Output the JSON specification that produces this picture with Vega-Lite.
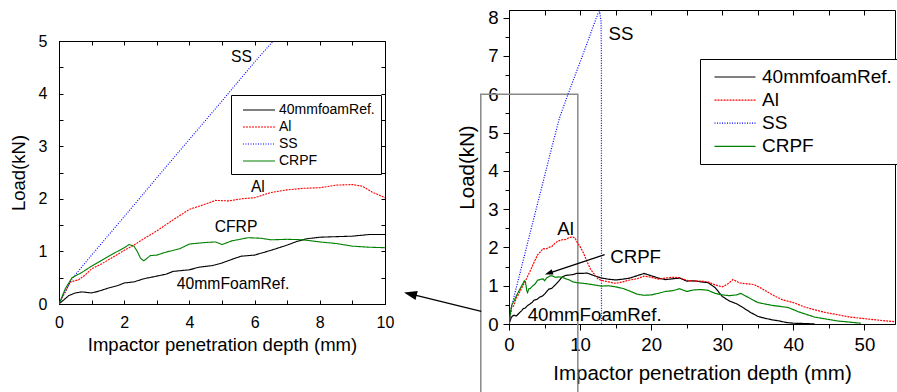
{
  "$schema": "https://vega.github.io/schema/vega-lite/v6.json",
  "padding": {"left": 8, "top": 8, "right": 0, "bottom": 0},
  "background": "white",
  "config": {
    "font": "Liberation Sans",
    "view": {"stroke": "black", "strokeWidth": 1},
    "axis": {"grid": false, "labelColor": "black", "tickColor": "black", "domainColor": "black", "titleColor": "black", "titleFontWeight": "normal", "labelFlush": false, "labelOverlap": false}
  },
  "datasets": {
    "curves": [
      {"series": "40mmfoamRef.", "x": 0, "y": 0}, {"series": "40mmfoamRef.", "x": 0.15, "y": 0.08}, {"series": "40mmfoamRef.", "x": 0.3, "y": 0.16}, {"series": "40mmfoamRef.", "x": 0.5, "y": 0.21}, {"series": "40mmfoamRef.", "x": 0.7, "y": 0.23}, {"series": "40mmfoamRef.", "x": 1.0, "y": 0.21}, {"series": "40mmfoamRef.", "x": 1.2, "y": 0.24}, {"series": "40mmfoamRef.", "x": 1.5, "y": 0.3}, {"series": "40mmfoamRef.", "x": 1.8, "y": 0.35}, {"series": "40mmfoamRef.", "x": 2.0, "y": 0.4}, {"series": "40mmfoamRef.", "x": 2.3, "y": 0.42}, {"series": "40mmfoamRef.", "x": 2.6, "y": 0.48}, {"series": "40mmfoamRef.", "x": 3.0, "y": 0.53}, {"series": "40mmfoamRef.", "x": 3.3, "y": 0.57}, {"series": "40mmfoamRef.", "x": 3.5, "y": 0.62}, {"series": "40mmfoamRef.", "x": 4.0, "y": 0.65}, {"series": "40mmfoamRef.", "x": 4.3, "y": 0.7}, {"series": "40mmfoamRef.", "x": 4.7, "y": 0.73}, {"series": "40mmfoamRef.", "x": 5.0, "y": 0.78}, {"series": "40mmfoamRef.", "x": 5.4, "y": 0.87}, {"series": "40mmfoamRef.", "x": 5.6, "y": 0.91}, {"series": "40mmfoamRef.", "x": 6.0, "y": 0.93}, {"series": "40mmfoamRef.", "x": 6.5, "y": 1.02}, {"series": "40mmfoamRef.", "x": 7.0, "y": 1.12}, {"series": "40mmfoamRef.", "x": 7.3, "y": 1.19}, {"series": "40mmfoamRef.", "x": 7.6, "y": 1.24}, {"series": "40mmfoamRef.", "x": 8.0, "y": 1.27}, {"series": "40mmfoamRef.", "x": 8.5, "y": 1.28}, {"series": "40mmfoamRef.", "x": 9.0, "y": 1.29}, {"series": "40mmfoamRef.", "x": 9.5, "y": 1.32}, {"series": "40mmfoamRef.", "x": 10, "y": 1.32}, {"series": "40mmfoamRef.", "x": 11, "y": 1.33}, {"series": "40mmfoamRef.", "x": 12, "y": 1.26}, {"series": "40mmfoamRef.", "x": 13, "y": 1.2}, {"series": "40mmfoamRef.", "x": 14, "y": 1.17}, {"series": "40mmfoamRef.", "x": 15, "y": 1.15}, {"series": "40mmfoamRef.", "x": 16, "y": 1.17}, {"series": "40mmfoamRef.", "x": 17, "y": 1.2}, {"series": "40mmfoamRef.", "x": 18, "y": 1.26}, {"series": "40mmfoamRef.", "x": 19, "y": 1.32}, {"series": "40mmfoamRef.", "x": 20, "y": 1.26}, {"series": "40mmfoamRef.", "x": 21, "y": 1.2}, {"series": "40mmfoamRef.", "x": 22, "y": 1.16}, {"series": "40mmfoamRef.", "x": 23, "y": 1.18}, {"series": "40mmfoamRef.", "x": 24, "y": 1.2}, {"series": "40mmfoamRef.", "x": 25, "y": 1.12}, {"series": "40mmfoamRef.", "x": 26, "y": 1.13}, {"series": "40mmfoamRef.", "x": 27, "y": 1.1}, {"series": "40mmfoamRef.", "x": 28, "y": 1.08}, {"series": "40mmfoamRef.", "x": 29, "y": 0.95}, {"series": "40mmfoamRef.", "x": 30, "y": 0.72}, {"series": "40mmfoamRef.", "x": 31, "y": 0.6}, {"series": "40mmfoamRef.", "x": 32, "y": 0.53}, {"series": "40mmfoamRef.", "x": 33, "y": 0.42}, {"series": "40mmfoamRef.", "x": 34, "y": 0.3}, {"series": "40mmfoamRef.", "x": 35, "y": 0.2}, {"series": "40mmfoamRef.", "x": 36, "y": 0.15}, {"series": "40mmfoamRef.", "x": 37, "y": 0.11}, {"series": "40mmfoamRef.", "x": 38, "y": 0.08}, {"series": "40mmfoamRef.", "x": 39, "y": 0.04}, {"series": "40mmfoamRef.", "x": 40, "y": 0.02}, {"series": "40mmfoamRef.", "x": 42, "y": 0.01}, {"series": "40mmfoamRef.", "x": 43, "y": 0},
      {"series": "Al", "x": 0, "y": 0}, {"series": "Al", "x": 0.2, "y": 0.25}, {"series": "Al", "x": 0.35, "y": 0.42}, {"series": "Al", "x": 0.6, "y": 0.46}, {"series": "Al", "x": 0.8, "y": 0.55}, {"series": "Al", "x": 1.0, "y": 0.67}, {"series": "Al", "x": 1.3, "y": 0.76}, {"series": "Al", "x": 1.6, "y": 0.87}, {"series": "Al", "x": 2.0, "y": 1.02}, {"series": "Al", "x": 2.3, "y": 1.12}, {"series": "Al", "x": 2.6, "y": 1.24}, {"series": "Al", "x": 3.0, "y": 1.39}, {"series": "Al", "x": 3.5, "y": 1.6}, {"series": "Al", "x": 4.0, "y": 1.8}, {"series": "Al", "x": 4.5, "y": 1.9}, {"series": "Al", "x": 4.8, "y": 1.97}, {"series": "Al", "x": 5.2, "y": 1.96}, {"series": "Al", "x": 5.6, "y": 2.0}, {"series": "Al", "x": 6.0, "y": 2.02}, {"series": "Al", "x": 6.5, "y": 2.12}, {"series": "Al", "x": 7.0, "y": 2.17}, {"series": "Al", "x": 7.5, "y": 2.2}, {"series": "Al", "x": 8.0, "y": 2.21}, {"series": "Al", "x": 8.5, "y": 2.26}, {"series": "Al", "x": 9.0, "y": 2.27}, {"series": "Al", "x": 9.3, "y": 2.24}, {"series": "Al", "x": 9.6, "y": 2.13}, {"series": "Al", "x": 10, "y": 2.02}, {"series": "Al", "x": 10.5, "y": 1.85}, {"series": "Al", "x": 11, "y": 1.62}, {"series": "Al", "x": 11.5, "y": 1.42}, {"series": "Al", "x": 12, "y": 1.3}, {"series": "Al", "x": 12.5, "y": 1.18}, {"series": "Al", "x": 13, "y": 1.14}, {"series": "Al", "x": 14, "y": 1.1}, {"series": "Al", "x": 15, "y": 1.06}, {"series": "Al", "x": 16, "y": 1.1}, {"series": "Al", "x": 17, "y": 1.15}, {"series": "Al", "x": 18, "y": 1.18}, {"series": "Al", "x": 19, "y": 1.25}, {"series": "Al", "x": 20, "y": 1.22}, {"series": "Al", "x": 21, "y": 1.17}, {"series": "Al", "x": 22, "y": 1.2}, {"series": "Al", "x": 23, "y": 1.22}, {"series": "Al", "x": 24, "y": 1.21}, {"series": "Al", "x": 25, "y": 1.14}, {"series": "Al", "x": 26, "y": 1.12}, {"series": "Al", "x": 27, "y": 1.12}, {"series": "Al", "x": 28, "y": 1.1}, {"series": "Al", "x": 29, "y": 1.02}, {"series": "Al", "x": 30, "y": 0.97}, {"series": "Al", "x": 30.8, "y": 1.05}, {"series": "Al", "x": 31.5, "y": 1.16}, {"series": "Al", "x": 32.5, "y": 1.07}, {"series": "Al", "x": 33.5, "y": 1.05}, {"series": "Al", "x": 34.5, "y": 1.03}, {"series": "Al", "x": 35.5, "y": 0.93}, {"series": "Al", "x": 36.5, "y": 0.82}, {"series": "Al", "x": 37.5, "y": 0.72}, {"series": "Al", "x": 38.5, "y": 0.63}, {"series": "Al", "x": 40, "y": 0.56}, {"series": "Al", "x": 41.5, "y": 0.45}, {"series": "Al", "x": 43, "y": 0.37}, {"series": "Al", "x": 44.5, "y": 0.3}, {"series": "Al", "x": 46, "y": 0.25}, {"series": "Al", "x": 48, "y": 0.18}, {"series": "Al", "x": 50, "y": 0.14}, {"series": "Al", "x": 52, "y": 0.1}, {"series": "Al", "x": 54.3, "y": 0.06},
      {"series": "SS", "x": 0, "y": 0}, {"series": "SS", "x": 0.4, "y": 0.48}, {"series": "SS", "x": 1, "y": 0.93}, {"series": "SS", "x": 2, "y": 1.66}, {"series": "SS", "x": 3, "y": 2.4}, {"series": "SS", "x": 4, "y": 3.13}, {"series": "SS", "x": 5, "y": 3.86}, {"series": "SS", "x": 6, "y": 4.6}, {"series": "SS", "x": 6.6, "y": 5.02}, {"series": "SS", "x": 7.1, "y": 5.38}, {"series": "SS", "x": 8.3, "y": 6.0}, {"series": "SS", "x": 9.7, "y": 6.69}, {"series": "SS", "x": 11.1, "y": 7.39}, {"series": "SS", "x": 12.0, "y": 7.85}, {"series": "SS", "x": 12.5, "y": 8.1}, {"series": "SS", "x": 12.75, "y": 8.16}, {"series": "SS", "x": 12.95, "y": 7.9}, {"series": "SS", "x": 13.0, "y": 7.0}, {"series": "SS", "x": 13.01, "y": 0},
      {"series": "CRPF", "x": 0, "y": 0}, {"series": "CRPF", "x": 0.2, "y": 0.3}, {"series": "CRPF", "x": 0.4, "y": 0.5}, {"series": "CRPF", "x": 0.7, "y": 0.6}, {"series": "CRPF", "x": 1.0, "y": 0.72}, {"series": "CRPF", "x": 1.5, "y": 0.9}, {"series": "CRPF", "x": 2.0, "y": 1.07}, {"series": "CRPF", "x": 2.15, "y": 1.13}, {"series": "CRPF", "x": 2.3, "y": 1.1}, {"series": "CRPF", "x": 2.4, "y": 1.0}, {"series": "CRPF", "x": 2.5, "y": 0.87}, {"series": "CRPF", "x": 2.6, "y": 0.82}, {"series": "CRPF", "x": 2.8, "y": 0.92}, {"series": "CRPF", "x": 3.0, "y": 0.93}, {"series": "CRPF", "x": 3.3, "y": 0.99}, {"series": "CRPF", "x": 3.7, "y": 1.05}, {"series": "CRPF", "x": 4.0, "y": 1.14}, {"series": "CRPF", "x": 4.5, "y": 1.17}, {"series": "CRPF", "x": 4.8, "y": 1.18}, {"series": "CRPF", "x": 5.0, "y": 1.13}, {"series": "CRPF", "x": 5.3, "y": 1.2}, {"series": "CRPF", "x": 5.8, "y": 1.26}, {"series": "CRPF", "x": 6.2, "y": 1.25}, {"series": "CRPF", "x": 6.5, "y": 1.22}, {"series": "CRPF", "x": 7.0, "y": 1.23}, {"series": "CRPF", "x": 7.5, "y": 1.22}, {"series": "CRPF", "x": 8.0, "y": 1.18}, {"series": "CRPF", "x": 8.5, "y": 1.15}, {"series": "CRPF", "x": 9.0, "y": 1.1}, {"series": "CRPF", "x": 9.5, "y": 1.08}, {"series": "CRPF", "x": 10, "y": 1.07}, {"series": "CRPF", "x": 11, "y": 1.05}, {"series": "CRPF", "x": 12, "y": 1.02}, {"series": "CRPF", "x": 13, "y": 0.99}, {"series": "CRPF", "x": 14, "y": 1.0}, {"series": "CRPF", "x": 15, "y": 0.97}, {"series": "CRPF", "x": 16, "y": 0.93}, {"series": "CRPF", "x": 17, "y": 0.86}, {"series": "CRPF", "x": 18, "y": 0.78}, {"series": "CRPF", "x": 19, "y": 0.75}, {"series": "CRPF", "x": 20, "y": 0.76}, {"series": "CRPF", "x": 21, "y": 0.8}, {"series": "CRPF", "x": 22, "y": 0.85}, {"series": "CRPF", "x": 23, "y": 0.87}, {"series": "CRPF", "x": 24, "y": 0.92}, {"series": "CRPF", "x": 25, "y": 0.85}, {"series": "CRPF", "x": 26, "y": 0.89}, {"series": "CRPF", "x": 27, "y": 0.9}, {"series": "CRPF", "x": 28, "y": 0.88}, {"series": "CRPF", "x": 29, "y": 0.8}, {"series": "CRPF", "x": 30, "y": 0.76}, {"series": "CRPF", "x": 31, "y": 0.74}, {"series": "CRPF", "x": 32, "y": 0.76}, {"series": "CRPF", "x": 32.6, "y": 0.8}, {"series": "CRPF", "x": 33.6, "y": 0.7}, {"series": "CRPF", "x": 35, "y": 0.56}, {"series": "CRPF", "x": 36.9, "y": 0.49}, {"series": "CRPF", "x": 39.3, "y": 0.43}, {"series": "CRPF", "x": 40.7, "y": 0.32}, {"series": "CRPF", "x": 43, "y": 0.18}, {"series": "CRPF", "x": 46.2, "y": 0.08}, {"series": "CRPF", "x": 49.5, "y": 0.02}
    ],
    "notes": [
      {"panel": "L", "label": "SS", "x": 5.6, "y": 4.69},
      {"panel": "L", "label": "Al", "x": 6.1, "y": 2.22},
      {"panel": "L", "label": "CFRP", "x": 5.43, "y": 1.46},
      {"panel": "L", "label": "40mmFoamRef.", "x": 5.34, "y": 0.38},
      {"panel": "R", "label": "SS", "x": 15.75, "y": 7.57},
      {"panel": "R", "label": "Al", "x": 7.96, "y": 2.47},
      {"panel": "R", "label": "CRPF", "x": 17.81, "y": 1.74},
      {"panel": "R", "label": "40mmFoamRef.", "x": 12.05, "y": 0.23}
    ],
    "inset": [{"x": -3.97, "x2": 9.68, "y": 6.0, "y2": -2.3}],
    "arrows": [
      {"id": "inset", "x": -3.9, "y": 0.33, "x2": -13.78, "y2": 0.78},
      {"id": "crpf", "x": 13.46, "y": 1.81, "x2": 5.65, "y2": 1.33}
    ]
  },
  "resolve": {"scale": {"color": "independent", "strokeDash": "independent", "strokeWidth": "independent"}},
  "bounds": "full",
  "spacing": 8,
  "hconcat": [
    {
      "spacing": 12,
      "bounds": "full",
      "resolve": {"scale": {"color": "independent", "strokeDash": "independent", "strokeWidth": "independent"}},
      "vconcat": [
        {
          "width": 10,
          "height": 10,
          "view": {"stroke": null},
          "data": {"values": [{"t": ""}]},
          "mark": {"type": "text"},
          "encoding": {"text": {"field": "t"}}
        },
        {
          "width": 326,
          "height": 263,
          "resolve": {"axis": {"x": "independent", "y": "independent"}},
          "layer": [
            {
              "data": {"name": "curves"},
              "mark": {"type": "line", "clip": true},
              "encoding": {
                "x": {"field": "x", "type": "quantitative", "scale": {"domain": [0, 10], "nice": false, "zero": false},
                  "axis": {"orient": "bottom", "values": [0,1,2,3,4,5,6,7,8,9,10], "labelExpr": "datum.value % 2 === 0 ? '' + datum.value : ''", "tickSize": -4, "labelPadding": 14, "labelFontSize": 16, "title": "Impactor penetration depth (mm)", "titleFontSize": 18.5, "titlePadding": 5}},
                "y": {"field": "y", "type": "quantitative", "scale": {"domain": [0, 5], "nice": false, "zero": false},
                  "axis": {"orient": "left", "values": [0,0.5,1,1.5,2,2.5,3,3.5,4,4.5,5], "labelExpr": "datum.value % 1 === 0 ? '' + datum.value : ''", "tickSize": -4, "labelPadding": 16, "labelFontSize": 16, "title": "Load(kN)", "titleFontSize": 18.5, "titlePadding": 10}},
                "color": {"field": "series", "type": "nominal", "scale": {"domain": ["40mmfoamRef.", "Al", "SS", "CRPF"], "range": ["#000000", "#ff0000", "#0000ff", "#008000"]},
                  "legend": {"title": null, "orient": "none", "legendX": 172, "legendY": 54, "strokeColor": "black", "fillColor": "white", "padding": 6, "labelFontSize": 14, "labelColor": "black", "symbolType": "M-2,0H2", "symbolSize": 256, "symbolOffset": 13, "labelOffset": 11, "rowPadding": 1}},
                "strokeDash": {"field": "series", "type": "nominal", "scale": {"domain": ["40mmfoamRef.", "Al", "SS", "CRPF"], "range": [[1, 0], [2, 1], [1, 1.5], [1, 0]]}},
                "strokeWidth": {"field": "series", "type": "nominal", "scale": {"domain": ["40mmfoamRef.", "Al", "SS", "CRPF"], "range": [1.1, 1.1, 1.1, 2.2]}}
              }
            },
            {
              "data": {"name": "notes"},
              "transform": [{"filter": "datum.panel === 'L'"}],
              "mark": {"type": "text", "fontSize": 15.7, "color": "black", "align": "center", "baseline": "middle"},
              "encoding": {
                "x": {"field": "x", "type": "quantitative", "scale": {"domain": [0, 10], "nice": false, "zero": false},
                  "axis": {"orient": "top", "values": [0,1,2,3,4,5,6,7,8,9,10], "labels": false, "tickSize": -4, "domain": false, "title": null}},
                "y": {"field": "y", "type": "quantitative", "scale": {"domain": [0, 5], "nice": false, "zero": false},
                  "axis": {"orient": "right", "values": [0,0.5,1,1.5,2,2.5,3,3.5,4,4.5,5], "labels": false, "tickSize": -4, "domain": false, "title": null}},
                "text": {"field": "label"}
              }
            }
          ]
        }
      ]
    },
    {
      "width": 386,
      "height": 314,
      "resolve": {"axis": {"x": "independent", "y": "independent"}},
      "layer": [
        {
          "data": {"name": "inset"},
          "mark": {"type": "rect", "filled": false, "stroke": "#8a8a8a", "strokeWidth": 1.5, "clip": false},
          "encoding": {
            "x": {"field": "x", "type": "quantitative", "scale": {"domain": [0, 54.3], "nice": false, "zero": false},
              "axis": {"orient": "bottom", "values": [5,15,25,35,45], "labels": false, "tickSize": 4, "domain": false, "title": null}},
            "x2": {"field": "x2"},
            "y": {"field": "y", "type": "quantitative", "scale": {"domain": [0, 8.2], "nice": false, "zero": false},
              "axis": {"orient": "left", "values": [0.5,1.5,2.5,3.5,4.5,5.5,6.5,7.5], "labels": false, "tickSize": 4, "domain": false, "title": null}},
            "y2": {"field": "y2"}
          }
        },
        {
          "data": {"name": "curves"},
          "mark": {"type": "line", "clip": true},
          "encoding": {
            "x": {"field": "x", "type": "quantitative", "scale": {"domain": [0, 54.3], "nice": false, "zero": false},
              "axis": {"orient": "bottom", "values": [0,10,20,30,40,50], "tickSize": 6, "labelPadding": 5, "labelFontSize": 18.6, "title": "Impactor penetration depth (mm)", "titleFontSize": 20.5, "titlePadding": 10}},
            "y": {"field": "y", "type": "quantitative", "scale": {"domain": [0, 8.2], "nice": false, "zero": false},
              "axis": {"orient": "left", "values": [0,1,2,3,4,5,6,7,8], "tickSize": 6, "labelPadding": 5, "labelFontSize": 18.6, "title": "Load(kN)", "titleFontSize": 20.5, "titlePadding": 10}},
            "color": {"field": "series", "type": "nominal", "scale": {"domain": ["40mmfoamRef.", "Al", "SS", "CRPF"], "range": ["#000000", "#ff0000", "#0000ff", "#008000"]},
              "legend": {"title": null, "orient": "none", "legendX": 191, "legendY": 49, "strokeColor": "black", "fillColor": "white", "padding": 7, "labelFontSize": 19, "labelColor": "black", "symbolType": "M-2,0H2", "symbolSize": 420, "symbolOffset": 17, "labelOffset": 16, "rowPadding": 2.1}},
            "strokeDash": {"field": "series", "type": "nominal", "scale": {"domain": ["40mmfoamRef.", "Al", "SS", "CRPF"], "range": [[1, 0], [2, 1], [1, 1.5], [1, 0]]}},
            "strokeWidth": {"field": "series", "type": "nominal", "scale": {"domain": ["40mmfoamRef.", "Al", "SS", "CRPF"], "range": [1.2, 1.2, 1.2, 2.5]}}
          }
        },
        {
          "data": {"name": "notes"},
          "transform": [{"filter": "datum.panel === 'R'"}],
          "mark": {"type": "text", "fontSize": 18.7, "color": "black", "align": "center", "baseline": "middle"},
          "encoding": {
            "x": {"field": "x", "type": "quantitative", "scale": {"domain": [0, 54.3], "nice": false, "zero": false},
              "axis": {"orient": "top", "values": [0,5,10,15,20,25,30,35,40,45,50], "labels": false, "tickSize": -5, "domain": false, "title": null}},
            "y": {"field": "y", "type": "quantitative", "scale": {"domain": [0, 8.2], "nice": false, "zero": false}, "axis": null},
            "text": {"field": "label"}
          }
        },
        {
          "data": {"name": "arrows"},
          "mark": {"type": "rule", "color": "black", "strokeWidth": 1.3, "clip": false},
          "encoding": {
            "x": {"field": "x", "type": "quantitative", "axis": null},
            "y": {"field": "y", "type": "quantitative", "axis": null},
            "x2": {"field": "x2"},
            "y2": {"field": "y2"}
          }
        },
        {
          "data": {"name": "arrows"},
          "transform": [{"filter": "datum.id === 'inset'"}],
          "mark": {"type": "point", "shape": "M0,-1L0.65,0.8L-0.65,0.8Z", "filled": true, "color": "black", "opacity": 1, "size": 208, "angle": 283.9, "clip": false},
          "encoding": {
            "x": {"field": "x2", "type": "quantitative", "axis": null},
            "y": {"field": "y2", "type": "quantitative", "axis": null}
          }
        },
        {
          "data": {"name": "arrows"},
          "transform": [{"filter": "datum.id === 'crpf'"}],
          "mark": {"type": "point", "shape": "M0,-1L0.6,0.8L-0.6,0.8Z", "filled": true, "color": "black", "opacity": 1, "size": 81, "angle": 251.6, "clip": false},
          "encoding": {
            "x": {"field": "x2", "type": "quantitative", "axis": null},
            "y": {"field": "y2", "type": "quantitative", "axis": null}
          }
        }
      ]
    }
  ]
}
